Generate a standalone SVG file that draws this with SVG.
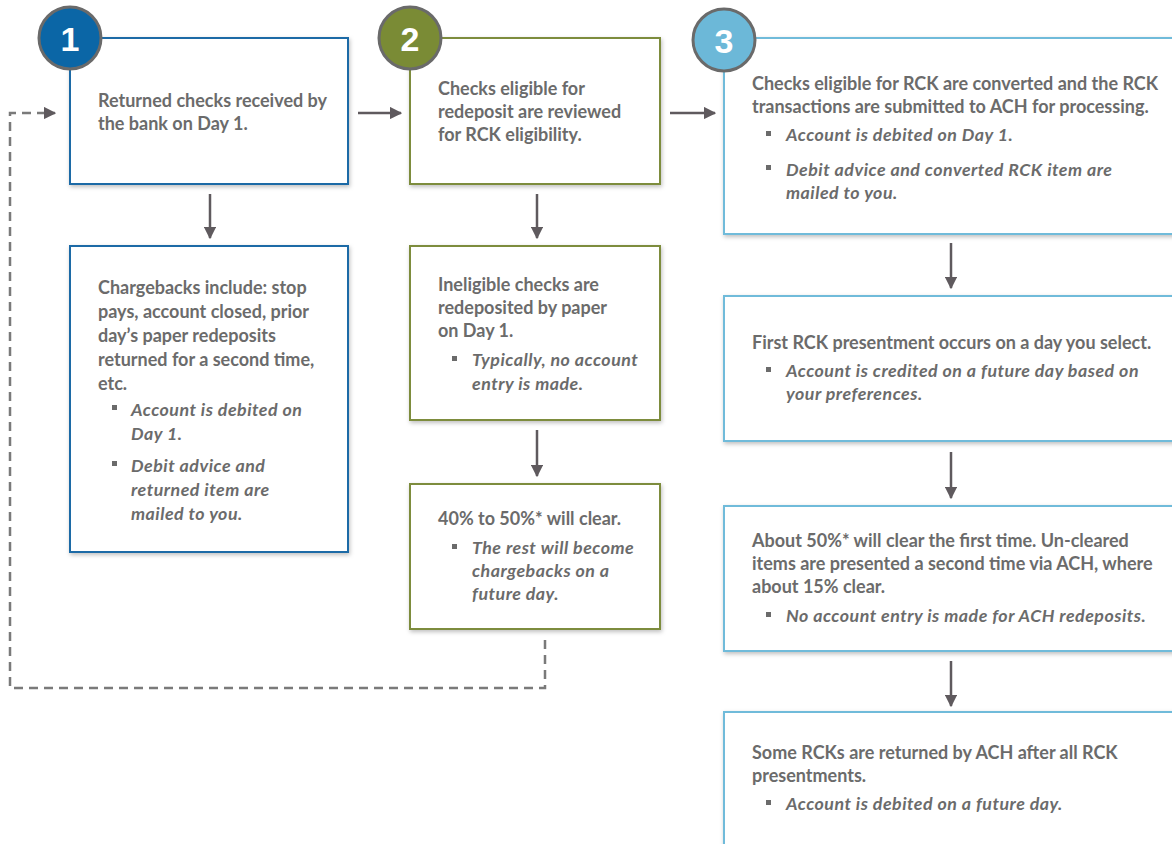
<svg xmlns="http://www.w3.org/2000/svg" width="1172" height="844" viewBox="0 0 1172 844">
  <style>
    .box { fill: #ffffff; stroke-width: 2; filter: url(#shadow); }
    .b1 { stroke: #1b6aa6; }
    .b2 { stroke: #7d8c3c; }
    .b3 { stroke: #70bbda; }
    .num { fill: #ffffff; font-family: "Liberation Sans", Arial, sans-serif; font-weight: bold; font-size: 34px; text-anchor: middle; }
    .badge { stroke: #6a6a6a; stroke-width: 3; }
    .t { fill: #6b6b6b; font-family: Lato, "Open Sans", sans-serif; font-weight: bold; font-size: 18px; }
    .i { fill: #6b6b6b; font-family: Lato, "Open Sans", sans-serif; font-weight: bold; font-style: italic; font-size: 17.8px; letter-spacing: 0.5px; }
    .sq { fill: #6b6b6b; }
    .arrow { stroke: #5f5a5e; stroke-width: 2.5; fill: none; marker-end: url(#head); }
    .dash { stroke: #7a7a7a; stroke-width: 2.5; fill: none; stroke-dasharray: 9 6; marker-end: url(#head); }
  </style>
  <defs>
    <filter id="shadow" x="-5%" y="-5%" width="112%" height="115%">
      <feDropShadow dx="1" dy="2" stdDeviation="2" flood-color="#000" flood-opacity="0.25"/>
    </filter>
    <marker id="head" viewBox="0 0 10 10" refX="9" refY="5" markerWidth="5" markerHeight="5" orient="auto" markerUnits="strokeWidth">
      <path d="M0,0 L10,5 L0,10 z" fill="#5f5a5e"/>
    </marker>
  </defs>
  <rect width="1172" height="844" fill="#ffffff"/>

  <g id="connectors">
    <line class="arrow" x1="358" y1="113" x2="401" y2="113"/>
    <line class="arrow" x1="670" y1="113" x2="715" y2="113"/>
    <line class="arrow" x1="210" y1="194" x2="210" y2="238"/>
    <line class="arrow" x1="537" y1="194" x2="537" y2="238"/>
    <line class="arrow" x1="537" y1="430" x2="537" y2="476"/>
    <line class="arrow" x1="951" y1="243" x2="951" y2="288"/>
    <line class="arrow" x1="951" y1="452" x2="951" y2="498"/>
    <line class="arrow" x1="951" y1="661" x2="951" y2="706"/>
    <path class="dash" d="M545,640 L545,688 L10,688 L10,113 L55,113"/>
  </g>

  <g id="step1">
    <rect class="box b1" x="70" y="38" width="278" height="146"/>
    <circle class="badge" cx="70" cy="38" r="31" fill="#0b66a6"/>
    <text class="num" x="70" y="51">1</text>
    <text class="t" x="98" y="107">Returned checks received by</text>
    <text class="t" x="98" y="130">the bank on Day 1.</text>
  </g>

  <g id="chargebacks">
    <rect class="box b1" x="70" y="246" width="278" height="306"/>
    <text class="t" x="98" y="294">Chargebacks include: stop</text>
    <text class="t" x="98" y="318">pays, account closed, prior</text>
    <text class="t" x="98" y="342">day’s paper redeposits</text>
    <text class="t" x="98" y="366">returned for a second time,</text>
    <text class="t" x="98" y="390">etc.</text>
    <rect class="sq" x="112" y="405" width="5" height="5"/>
    <text class="i" x="131" y="416">Account is debited on</text>
    <text class="i" x="131" y="440">Day 1.</text>
    <rect class="sq" x="112" y="461" width="5" height="5"/>
    <text class="i" x="131" y="472">Debit advice and</text>
    <text class="i" x="131" y="496">returned item are</text>
    <text class="i" x="131" y="520">mailed to you.</text>
  </g>

  <g id="step2">
    <rect class="box b2" x="410" y="38" width="250" height="146"/>
    <circle class="badge" cx="410" cy="38" r="31" fill="#7a8b35"/>
    <text class="num" x="410" y="51">2</text>
    <text class="t" x="438" y="95">Checks eligible for</text>
    <text class="t" x="438" y="118">redeposit are reviewed</text>
    <text class="t" x="438" y="141">for RCK eligibility.</text>
  </g>

  <g id="paper-redeposit">
    <rect class="box b2" x="410" y="246" width="250" height="174"/>
    <text class="t" x="438" y="291">Ineligible checks are</text>
    <text class="t" x="438" y="314">redeposited by paper</text>
    <text class="t" x="438" y="337">on Day 1.</text>
    <rect class="sq" x="452" y="356" width="5" height="5"/>
    <text class="i" x="472" y="366">Typically, no account</text>
    <text class="i" x="472" y="390">entry is made.</text>
  </g>

  <g id="paper-clear">
    <rect class="box b2" x="410" y="484" width="250" height="145"/>
    <text class="t" x="438" y="525">40% to 50%* will clear.</text>
    <rect class="sq" x="452" y="544" width="5" height="5"/>
    <text class="i" x="472" y="554">The rest will become</text>
    <text class="i" x="472" y="577">chargebacks on a</text>
    <text class="i" x="472" y="600">future day.</text>
  </g>

  <g id="step3">
    <rect class="box b3" x="724" y="38" width="460" height="196"/>
    <circle class="badge" cx="724" cy="40" r="31" fill="#6cb8d8"/>
    <text class="num" x="724" y="53">3</text>
    <text class="t" x="752" y="90">Checks eligible for RCK are converted and the RCK</text>
    <text class="t" x="752" y="113">transactions are submitted to ACH for processing.</text>
    <rect class="sq" x="766" y="131" width="5" height="5"/>
    <text class="i" x="786" y="141">Account is debited on Day 1.</text>
    <rect class="sq" x="766" y="165" width="5" height="5"/>
    <text class="i" x="786" y="176">Debit advice and converted RCK item are</text>
    <text class="i" x="786" y="199">mailed to you.</text>
  </g>

  <g id="first-presentment">
    <rect class="box b3" x="724" y="296" width="460" height="145"/>
    <text class="t" x="752" y="349">First RCK presentment occurs on a day you select.</text>
    <rect class="sq" x="766" y="367" width="5" height="5"/>
    <text class="i" x="786" y="377">Account is credited on a future day based on</text>
    <text class="i" x="786" y="400">your preferences.</text>
  </g>

  <g id="second-presentment">
    <rect class="box b3" x="724" y="506" width="460" height="145"/>
    <text class="t" x="752" y="547">About 50%* will clear the first time. Un-cleared</text>
    <text class="t" x="752" y="570">items are presented a second time via ACH, where</text>
    <text class="t" x="752" y="593">about 15% clear.</text>
    <rect class="sq" x="766" y="612" width="5" height="5"/>
    <text class="i" x="786" y="622">No account entry is made for ACH redeposits.</text>
  </g>

  <g id="ach-returns">
    <rect class="box b3" x="724" y="712" width="460" height="150"/>
    <text class="t" x="752" y="759">Some RCKs are returned by ACH after all RCK</text>
    <text class="t" x="752" y="782">presentments.</text>
    <rect class="sq" x="766" y="800" width="5" height="5"/>
    <text class="i" x="786" y="810">Account is debited on a future day.</text>
  </g>
</svg>
